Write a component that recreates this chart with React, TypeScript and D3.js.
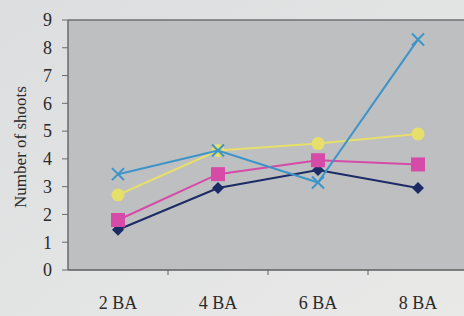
import * as React from 'react';
import * as d3 from 'd3';

const categories = ['2 BA', '4 BA', '6 BA', '8 BA'];
const yTicks = [0, 1, 2, 3, 4, 5, 6, 7, 8, 9];

const navy = [1.45, 2.95, 3.6, 2.95];
const pink = [1.8, 3.45, 3.95, 3.8];
const yellow = [2.7, 4.3, 4.55, 4.9];
const blue = [3.45, 4.3, 3.15, 8.3];

const series = [
  { name: 'navy', values: navy, color: '#1c2a66', shape: 'diamond' },
  { name: 'pink', values: pink, color: '#d64aa8', shape: 'square' },
  { name: 'yellow', values: yellow, color: '#e6df6a', shape: 'circle' },
  { name: 'blue', values: blue, color: '#3c94c8', shape: 'cross' }
];

const W = 464;
const H = 316;
const margin = { top: 20, right: -4, bottom: 46, left: 68 };

const App = () => {
  const x = d3
    .scaleBand()
    .domain(categories)
    .range([margin.left, W - margin.right]);
  const y = d3
    .scaleLinear()
    .domain([0, 9])
    .range([H - margin.bottom, margin.top]);

  const line = d3
    .line<number>()
    .x((d, i) => x(categories[i]) + x.bandwidth() / 2)
    .y(d => y(d));

  const marker = (shape, cx, cy, color, key) => {
    if (shape === 'diamond') {
      const s = 6;
      return (
        <path key={key} d={`M${cx},${cy - s}L${cx + s},${cy}L${cx},${cy + s}L${cx - s},${cy}Z`} fill={color} />
      );
    }
    if (shape === 'square') {
      return <rect key={key} x={cx - 7} y={cy - 7} width={14} height={14} fill={color} />;
    }
    if (shape === 'circle') {
      return <circle key={key} cx={cx} cy={cy} r={6.5} fill={color} />;
    }
    const s = 6;
    return (
      <path
        key={key}
        d={`M${cx - s},${cy - s}L${cx + s},${cy + s}M${cx - s},${cy + s}L${cx + s},${cy - s}`}
        stroke={color}
        strokeWidth={2}
        fill="none"
      />
    );
  };

  const x0 = margin.left;
  const yBottom = y(0);
  const yTop = y(9);

  return (
    <svg
      width={W}
      height={H}
      style={{ position: 'absolute', left: 0, top: 0, fontFamily: 'Liberation Serif, serif' }}
    >
      <defs>
        <linearGradient id="bg" x1="0" y1="0" x2="1" y2="1">
          <stop offset="0%" stopColor="#dcdedf" />
          <stop offset="100%" stopColor="#e9e9e8" />
        </linearGradient>
      </defs>
      <rect x={0} y={0} width={W} height={H} fill="url(#bg)" />
      <rect x={x0} y={yTop} width={W - x0} height={yBottom - yTop} fill="#bdbfc1" />
      <line x1={x0} x2={W} y1={yTop} y2={yTop} stroke="#6f7172" strokeWidth={1.5} />
      <line x1={x0} x2={x0} y1={yTop} y2={yBottom} stroke="#6a6c6d" strokeWidth={1.5} />
      <line x1={x0} x2={W} y1={yBottom} y2={yBottom} stroke="#5e6061" strokeWidth={1.5} />
      {yTicks.map(t => (
        <g key={t}>
          <line x1={x0 - 6} x2={x0} y1={y(t)} y2={y(t)} stroke="#6a6c6d" strokeWidth={1} />
          <text x={x0 - 16} y={y(t)} dy="0.35em" textAnchor="end" fontSize={18} fill="#2a2a2a">
            {t}
          </text>
        </g>
      ))}
      {categories.map((c, i) => (
        <g key={c}>
          {i > 0 && (
            <line x1={x(c)} x2={x(c)} y1={yBottom} y2={yBottom + 5} stroke="#5e6061" strokeWidth={1} />
          )}
          <text x={x(c) + x.bandwidth() / 2} y={yBottom + 39} textAnchor="middle" fontSize={18} fill="#2a2a2a">
            {c}
          </text>
        </g>
      ))}
      <text
        transform={`translate(26, ${(yTop + yBottom) / 2 + 2}) rotate(-90)`}
        textAnchor="middle"
        fontSize={17}
        fill="#2a2a2a"
      >
        Number of shoots
      </text>
      {series.map(s => (
        <g key={s.name}>
          <path d={line(s.values)} fill="none" stroke={s.color} strokeWidth={2} />
          {s.values.map((v, i) =>
            marker(s.shape, x(categories[i]) + x.bandwidth() / 2, y(v), s.color, s.name + i)
          )}
        </g>
      ))}
    </svg>
  );
};

export default App;
